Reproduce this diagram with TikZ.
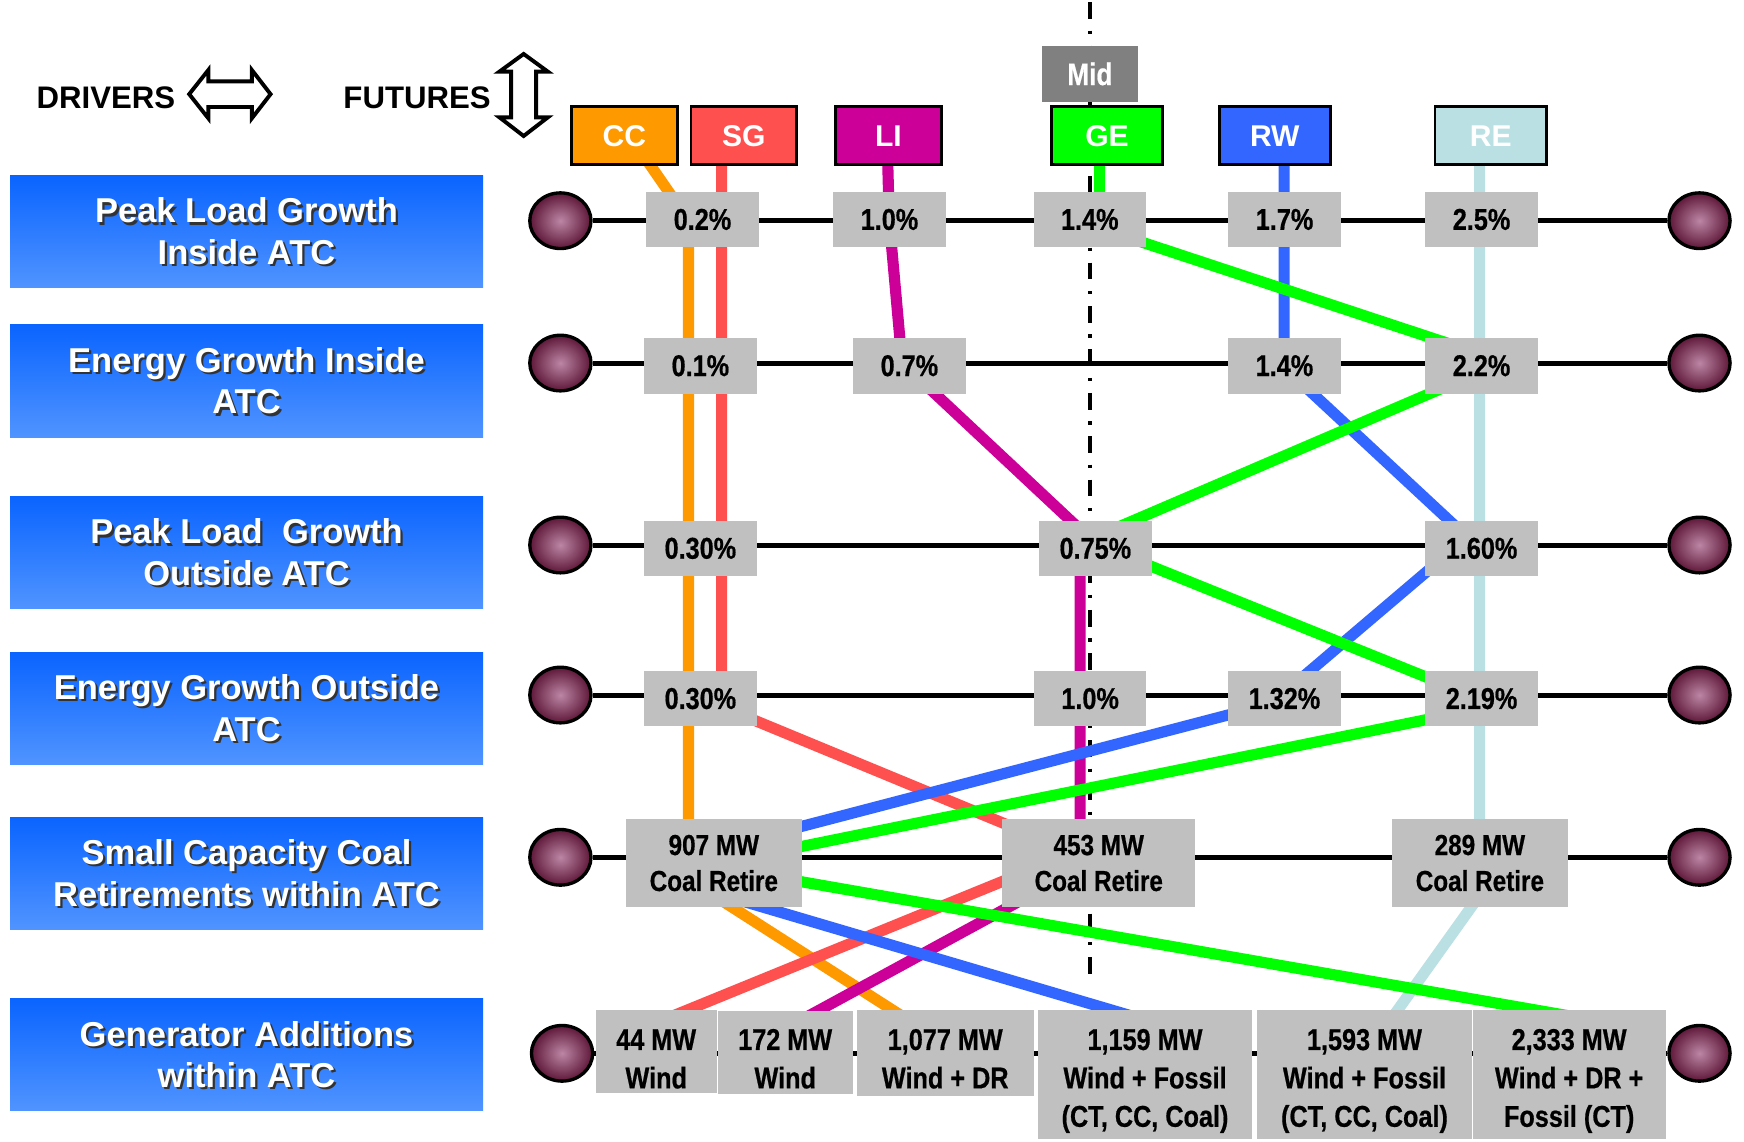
\documentclass[tikz,border=0pt]{standalone}
\usepackage{fontspec}
\setmainfont{Liberation Sans}
\newfontfamily\narrowfont[FakeStretch=0.84,FakeBold=0.6]{Liberation Sans}
\usetikzlibrary{shapes.geometric}
\definecolor{ccO}{HTML}{FF9900}
\definecolor{sgR}{HTML}{FF5050}
\definecolor{liM}{HTML}{CC0099}
\definecolor{geG}{HTML}{00FF00}
\definecolor{rwB}{HTML}{3366FF}
\definecolor{reC}{HTML}{BBE0E3}
\definecolor{boxGray}{HTML}{C0C0C0}
\definecolor{midGray}{HTML}{808080}
\definecolor{blueTop}{HTML}{0A64FF}
\definecolor{blueBot}{HTML}{5094FF}
\definecolor{ballIn}{HTML}{BC86A4}
\definecolor{ballOut}{HTML}{5E1738}
\tikzset{
  drvbox/.style={rectangle, draw=none, inner sep=0pt, anchor=north west, minimum width=425pt, minimum height=101pt, top color=blueTop, bottom color=blueBot},
  drvtxt/.style={inner sep=0pt, align=center, text=white, font=\bfseries\fontsize{31}{37.5}\selectfont},
  drvshd/.style={drvtxt, text=black!80},
  ball/.style={ellipse, draw=black, line width=3pt, minimum width=55pt, minimum height=50pt, inner sep=0pt, inner color=ballIn, outer color=ballOut},
  futbox/.style={rectangle, draw=black, line width=2.5pt, inner sep=0pt, minimum height=52pt, text=white, font=\bfseries\fontsize{27}{30}\selectfont},
  valbox/.style={rectangle, fill=boxGray, draw=none, inner sep=0pt, anchor=north west, minimum width=101pt, minimum height=50pt, font=\narrowfont\bfseries\fontsize{27}{30}\selectfont},
  vline/.style={inner sep=0pt, anchor=base, font=\narrowfont\bfseries\fontsize{27}{30}\selectfont},
  coalbox/.style={valbox, minimum height=79.5pt, align=center, font=\narrowfont\bfseries\fontsize{26}{32.3}\selectfont},
  rowline/.style={line width=4.5pt, black},
  link/.style={line width=10pt, line join=round},
  arrowshape/.style={draw=black, fill=white, line width=3.5pt, line join=miter},
  headtxt/.style={inner sep=0pt, anchor=base west, font=\bfseries\fontsize{28}{30}\selectfont},
  midline/.style={line width=4pt, black, dash pattern=on 15pt off 10.5pt on 3pt off 10.5pt, dash phase=-2pt}
}
\begin{document}
\begin{tikzpicture}[x=1pt,y=-1pt]
\fill[white] (0,0) rectangle (1567,1026);
\useasboundingbox (0,0) rectangle (1567,1026);

% mid dash-dot line
\coordinate (dtop) at (979.5,0);
\coordinate (dbot) at (979.5,885);
\draw[midline] (dtop) -- (dbot);

% balls and row lines
\node[ball] (l1) at (503.5,198.3) {};
\node[ball] (r1) at (1527,198.3) {};
\node[ball] (l2) at (503.5,326.2) {};
\node[ball] (r2) at (1527,326.2) {};
\node[ball] (l3) at (503.5,489.7) {};
\node[ball] (r3) at (1527,489.7) {};
\node[ball] (l4) at (503.5,624.5) {};
\node[ball] (r4) at (1527,624.5) {};
\node[ball] (l5) at (503.5,770.3) {};
\node[ball] (r5) at (1527,770.3) {};
\node[ball] (l6) at (505,946.4) {};
\node[ball] (r6) at (1527,946.4) {};
\draw[rowline] (l1) -- (r1);
\draw[rowline] (l2) -- (r2);
\draw[rowline] (l3) -- (r3);
\draw[rowline] (l4) -- (r4);
\draw[rowline] (l5) -- (r5);
\draw[rowline] (l6) -- (r6);

% link way points (hidden inside boxes)
\coordinate (o1) at (566,122);
\coordinate (o2) at (618.6,198);
\coordinate (o3) at (618.6,790);
\coordinate (o4) at (862,946);
\coordinate (sr1) at (648.4,122);
\coordinate (sr2) at (648.4,635);
\coordinate (sr3) at (987,775);
\coordinate (sr4) at (930,780);
\coordinate (sr5) at (600,914.7);
\coordinate (m1) at (797,122);
\coordinate (m2) at (799,198);
\coordinate (m3) at (810.5,326);
\coordinate (m4) at (975,480);
\coordinate (m5) at (970.5,500);
\coordinate (m6) at (970.5,780);
\coordinate (m7) at (700,927.3);
\coordinate (c1) at (1329.4,122);
\coordinate (c2) at (1329.4,804.5);
\coordinate (c3) at (1232.6,940);
\coordinate (b1) at (1153.8,122);
\coordinate (b2) at (1153.8,329.8);
\coordinate (b3) at (1318.3,482.7);
\coordinate (b4) at (1142.5,632.2);
\coordinate (b5) at (571.5,781.4);
\coordinate (b6) at (1040,919.7);
\coordinate (gr1) at (988,122);
\coordinate (gr2) at (988,205);
\coordinate (gr3) at (1331,318.4);
\coordinate (gr4) at (1331,333.7);
\coordinate (gr5) at (976.7,485.6);
\coordinate (gr6) at (1344.6,633.8);
\coordinate (gr7) at (636.3,777.6);
\coordinate (gr8) at (1420,914.5);

\draw[link, ccO] (o1) -- (o2) -- (o3) -- (o4);
\draw[link, sgR] (sr1) -- (sr2) -- (sr3);
\draw[link, sgR] (sr4) -- (sr5);
\draw[link, liM] (m1) -- (m2) -- (m3) -- (m4) -- (m5) -- (m6) -- (m7);
\draw[link, reC] (c1) -- (c2) -- (c3);
\draw[link, rwB] (b1) -- (b2) -- (b3) -- (b4) -- (b5) -- (b6);
\draw[link, geG] (gr1) -- (gr2) -- (gr3) -- (gr4) -- (gr5) -- (gr6) -- (gr7) -- (gr8);

% future boxes
\node[futbox, fill=ccO, minimum width=95pt] (cc) at (560.9,122) {CC};
\node[futbox, fill=sgR, minimum width=95pt] (sg) at (668.4,122) {SG};
\node[futbox, fill=liM, minimum width=95pt] (li) at (798.3,122) {LI};
\node[futbox, fill=geG, minimum width=100pt] (ge) at (994.7,122) {GE};
\node[futbox, fill=rwB, minimum width=100pt] (rw) at (1145.4,122) {RW};
\node[futbox, fill=reC, minimum width=100pt] (re) at (1339.4,122) {RE};
\node[rectangle, fill=midGray, inner sep=0pt, minimum width=86.6pt, minimum height=50pt, text=white, font=\narrowfont\bfseries\fontsize{28}{30}\selectfont] (mid) at (979.3,66.4) {Mid};

% value boxes
\node[valbox] (g11) at (580.5,172) {0.2\%};
\node[valbox] (g12) at (748.5,172) {1.0\%};
\node[valbox] (g13) at (928.5,172) {1.4\%};
\node[valbox] (g14) at (1103.5,172) {1.7\%};
\node[valbox] (g15) at (1280.5,172) {2.5\%};
\node[valbox] (g21) at (578.6,303.4) {0.1\%};
\node[valbox] (g22) at (766.4,303.4) {0.7\%};
\node[valbox] (g23) at (1103.4,303.4) {1.4\%};
\node[valbox] (g24) at (1280.5,303.4) {2.2\%};
\node[valbox] (g31) at (578.6,467.5) {0.30\%};
\node[valbox] (g32) at (933.5,467.5) {0.75\%};
\node[valbox] (g33) at (1280.5,467.5) {1.60\%};
\node[valbox] (g41) at (578.6,602.5) {0.30\%};
\node[valbox] (g42) at (928.8,602.5) {1.0\%};
\node[valbox] (g43) at (1103.4,602.5) {1.32\%};
\node[valbox] (g44) at (1280.5,602.5) {2.19\%};
\node[coalbox, minimum width=157.6pt] (g51) at (562.4,735.5) {907 MW\\Coal Retire};
\node[coalbox, minimum width=173.3pt] (g52) at (900.4,735.5) {453 MW\\Coal Retire};
\node[coalbox, minimum width=157.6pt] (g53) at (1250.7,735.5) {289 MW\\Coal Retire};

\node[valbox, minimum width=108.2pt, minimum height=74.8pt] (g61) at (535.5,907.5) {};
\node[valbox, minimum width=121pt, minimum height=74.8pt] (g62) at (645,908.4) {};
\node[valbox, minimum width=158.6pt, minimum height=77pt] (g63) at (770,907.5) {};
\node[valbox, minimum width=192.3pt, minimum height=115.3pt] (g64) at (932.6,907.5) {};
\node[valbox, minimum width=192.7pt, minimum height=115.3pt] (g65) at (1129.6,907.5) {};
\node[valbox, minimum width=173pt, minimum height=115.3pt] (g66) at (1323.4,907.5) {};
\node[vline] (t61a) at (589.6,943.4) {44 MW};
\node[vline] (t61b) at (589.6,977.9) {Wind};
\node[vline] (t62a) at (705.5,943.4) {172 MW};
\node[vline] (t62b) at (705.5,977.9) {Wind};
\node[vline] (t63a) at (849.3,943.4) {1,077 MW};
\node[vline] (t63b) at (849.3,977.9) {Wind + DR};
\node[vline] (t64a) at (1028.8,943.4) {1,159 MW};
\node[vline] (t64b) at (1028.8,977.9) {Wind + Fossil};
\node[vline] (t64c) at (1028.8,1012.4) {(CT, CC, Coal)};
\node[vline] (t65a) at (1226,943.4) {1,593 MW};
\node[vline] (t65b) at (1226,977.9) {Wind + Fossil};
\node[vline] (t65c) at (1226,1012.4) {(CT, CC, Coal)};
\node[vline] (t66a) at (1409.9,943.4) {2,333 MW};
\node[vline] (t66b) at (1409.9,977.9) {Wind + DR +};
\node[vline] (t66c) at (1409.9,1012.4) {Fossil (CT)};

% driver boxes
\node[drvbox, minimum height=101.3pt] (d1) at (9,157.2) {};
\node[drvbox, minimum height=102pt] (d2) at (9,291.1) {};
\node[drvbox, minimum height=101.3pt] (d3) at (9,445.6) {};
\node[drvbox] (d4) at (9,585.8) {};
\node[drvbox] (d5) at (9,734) {};
\node[drvbox] (d6) at (9,897) {};
\node[drvshd] (d1s) at (223.5,209.9) {Peak Load Growth\\Inside ATC};
\node[drvtxt] (d1t) at (221.5,207.9) {Peak Load Growth\\Inside ATC};
\node[drvshd] (d2s) at (223.5,344.1) {Energy Growth Inside\\ATC};
\node[drvtxt] (d2t) at (221.5,342.1) {Energy Growth Inside\\ATC};
\node[drvshd] (d3s) at (223.5,498.3) {Peak Load\ \ Growth\\Outside ATC};
\node[drvtxt] (d3t) at (221.5,496.3) {Peak Load\ \ Growth\\Outside ATC};
\node[drvshd] (d4s) at (223.5,638.3) {Energy Growth Outside\\ATC};
\node[drvtxt] (d4t) at (221.5,636.3) {Energy Growth Outside\\ATC};
\node[drvshd] (d5s) at (223.5,786.5) {Small Capacity Coal\\Retirements within ATC};
\node[drvtxt] (d5t) at (221.5,784.5) {Small Capacity Coal\\Retirements within ATC};
\node[drvshd] (d6s) at (223.5,949.5) {Generator Additions\\within ATC};
\node[drvtxt] (d6t) at (221.5,947.5) {Generator Additions\\within ATC};

% header
\node[headtxt] (drivers) at (32.7,97.3) {DRIVERS};
\node[headtxt] (futures) at (308.4,97.3) {FUTURES};
\draw[arrowshape] (170,84.6) -- (187.2,62.9) -- (187.2,73.1) -- (226.3,73.1) -- (226.3,62.9) -- (243.1,84.6) -- (226.3,106.3) -- (226.3,96.1) -- (187.2,96.1) -- (187.2,106.3) -- cycle;
\draw[arrowshape] (470.5,48.5) -- (492.3,64.4) -- (481.7,64.4) -- (481.7,105.4) -- (492.3,105.4) -- (470.5,122.2) -- (448.7,105.4) -- (459.3,105.4) -- (459.3,64.4) -- (448.7,64.4) -- cycle;
\end{tikzpicture}
\end{document}
